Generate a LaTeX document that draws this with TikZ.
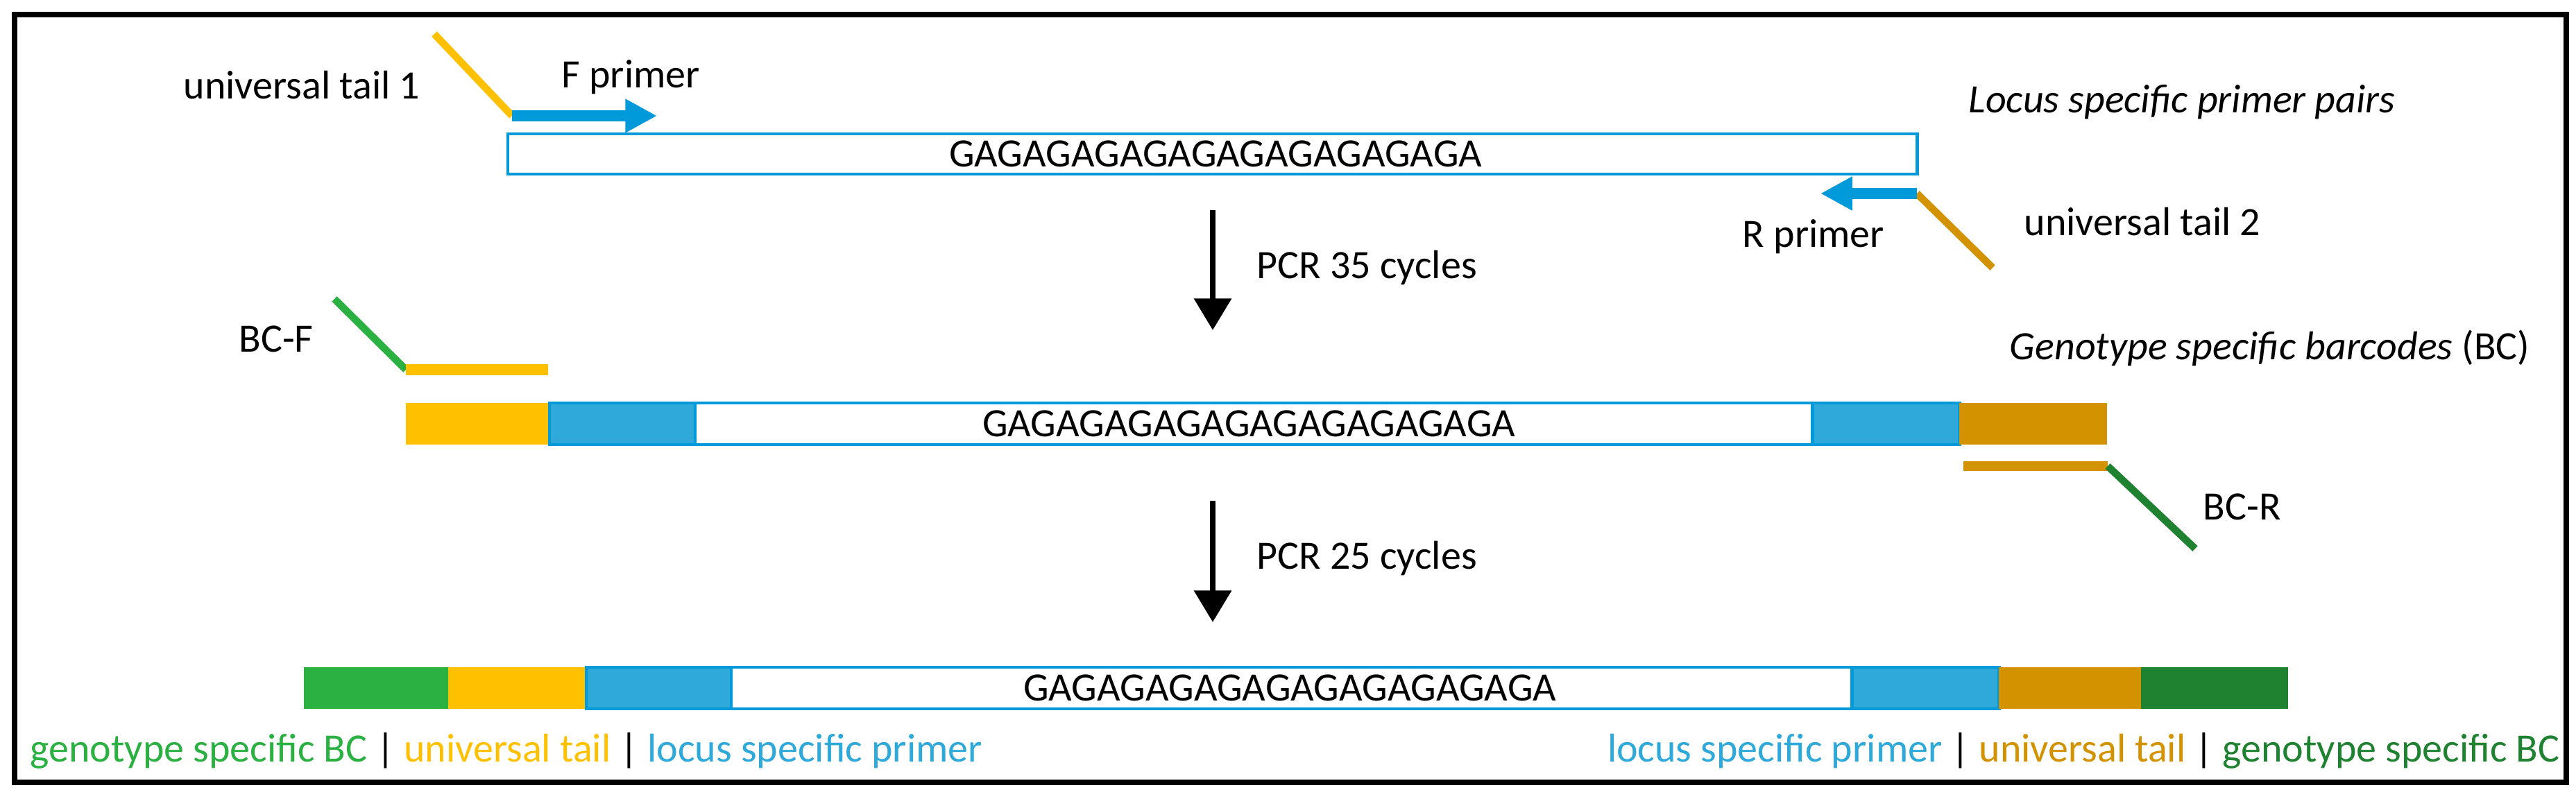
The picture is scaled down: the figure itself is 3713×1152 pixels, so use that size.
\documentclass[tikz,border=0pt]{standalone}
\usepackage{fontspec}
\setmainfont{Carlito}
\usetikzlibrary{arrows.meta}
\definecolor{yel}{HTML}{FFC000}
\definecolor{org}{HTML}{D39200}
\definecolor{blu}{HTML}{009ADA}
\definecolor{bfill}{HTML}{2EA9DA}
\definecolor{lgr}{HTML}{2BB042}
\definecolor{dgr}{HTML}{1F8231}
\begin{document}
\begin{tikzpicture}[x=0.01cm,y=-0.01cm,
  txt/.style={font=\fontsize{16.5}{19}\selectfont,inner sep=0pt},
  bigarrow/.style={line width=2.2pt,-{Triangle[length=13pt,width=15pt]}}]
\useasboundingbox (0,0) rectangle (3713,1152);
\draw[line width=2.3pt] (21,21) rectangle (3699,1128);
% top template
\draw[blu,line width=1.4pt] (732,193) rectangle (2763,251);
\node[txt] (g1) at (1752,222) {GAGAGAGAGAGAGAGAGAGAGA};
\coordinate (t1a) at (626,49); \coordinate (t1b) at (738,167); \coordinate (fp) at (947,167);
\draw[yel,line width=3pt] (t1a) -- (t1b);
\draw[blu,line width=4.5pt,-{Triangle[length=13pt,width=13pt]}] (t1b) -- (fp);
\node[txt,anchor=base west] (ut1) at (264,143) {universal tail 1};
\node[txt,anchor=base west] (fpl) at (809,127) {F primer};
\coordinate (rpa) at (2763,279); \coordinate (rp) at (2624,279); \coordinate (t2b) at (2872,386);
\draw[org,line width=3pt] (rpa) -- (t2b);
\draw[blu,line width=4.5pt,-{Triangle[length=13pt,width=13pt]}] (rpa) -- (rp);
\node[txt] (rpl) at (2614,341) {R primer};
\node[txt,anchor=west] (ut2) at (2917,320) {universal tail 2};
\node[txt,anchor=east] (lsp) at (3453,147) {\itshape Locus specific primer pairs};
% arrow 1
\coordinate (a1s) at (1748,303); \coordinate (a1e) at (1748,476);
\draw[bigarrow] (a1s) -- (a1e);
\node[txt,anchor=west] (pcr1) at (1811,386) {PCR 35 cycles};
% middle
\node[txt,anchor=east] (gsb) at (3647,502) {\itshape Genotype specific barcodes\upshape\ (BC)};
\coordinate (bfa) at (482,431); \coordinate (bfb) at (585,533); \coordinate (bfc) at (790,533);
\draw[lgr,line width=3pt] (bfa) -- (bfb);
\draw[yel,line width=4.5pt] (bfb) -- (bfc);
\node[txt,anchor=base west] (bcf) at (344,508) {BC-F};
\fill[yel] (585,581) rectangle (792,641);
\filldraw[fill=bfill,draw=blu,line width=1.4pt] (792,581) rectangle (1002,641);
\filldraw[fill=white,draw=blu,line width=1.4pt] (1002,581) rectangle (2612,641);
\filldraw[fill=bfill,draw=blu,line width=1.4pt] (2612,581) rectangle (2824,641);
\fill[org] (2824,581) rectangle (3037,641);
\node[txt] (g2) at (1800,611) {GAGAGAGAGAGAGAGAGAGAGA};
\coordinate (bra) at (2830,672); \coordinate (brb) at (3038,672); \coordinate (brc) at (3164,791);
\draw[org,line width=4.2pt] (bra) -- (brb);
\draw[dgr,line width=3pt] (brb) -- (brc);
\node[txt,anchor=base west] (bcr) at (3175,749) {BC-R};
% arrow 2
\coordinate (a2s) at (1748,722); \coordinate (a2e) at (1748,897);
\draw[bigarrow] (a2s) -- (a2e);
\node[txt,anchor=west] (pcr2) at (1811,805) {PCR 25 cycles};
% bottom
\fill[lgr] (438,962) rectangle (646,1022);
\fill[yel] (646,962) rectangle (845,1022);
\filldraw[fill=bfill,draw=blu,line width=1.4pt] (845,962) rectangle (1054,1022);
\filldraw[fill=white,draw=blu,line width=1.4pt] (1054,962) rectangle (2669,1022);
\filldraw[fill=bfill,draw=blu,line width=1.4pt] (2669,962) rectangle (2881,1022);
\fill[org] (2881,962) rectangle (3086,1022);
\fill[dgr] (3086,962) rectangle (3298,1022);
\node[txt] (g3) at (1859,992) {GAGAGAGAGAGAGAGAGAGAGA};
\node[txt,anchor=base west] (legl) at (43,1098) {\color{lgr}genotype specific BC \color{black}| \color{yel}universal tail \color{black}| \color{bfill}locus specific primer};
\node[txt,anchor=base east] (legr) at (3690,1098) {\color{bfill}locus specific primer \color{black}| \color{org}universal tail \color{black}| \color{dgr}genotype specific BC};
\end{tikzpicture}
\end{document}
